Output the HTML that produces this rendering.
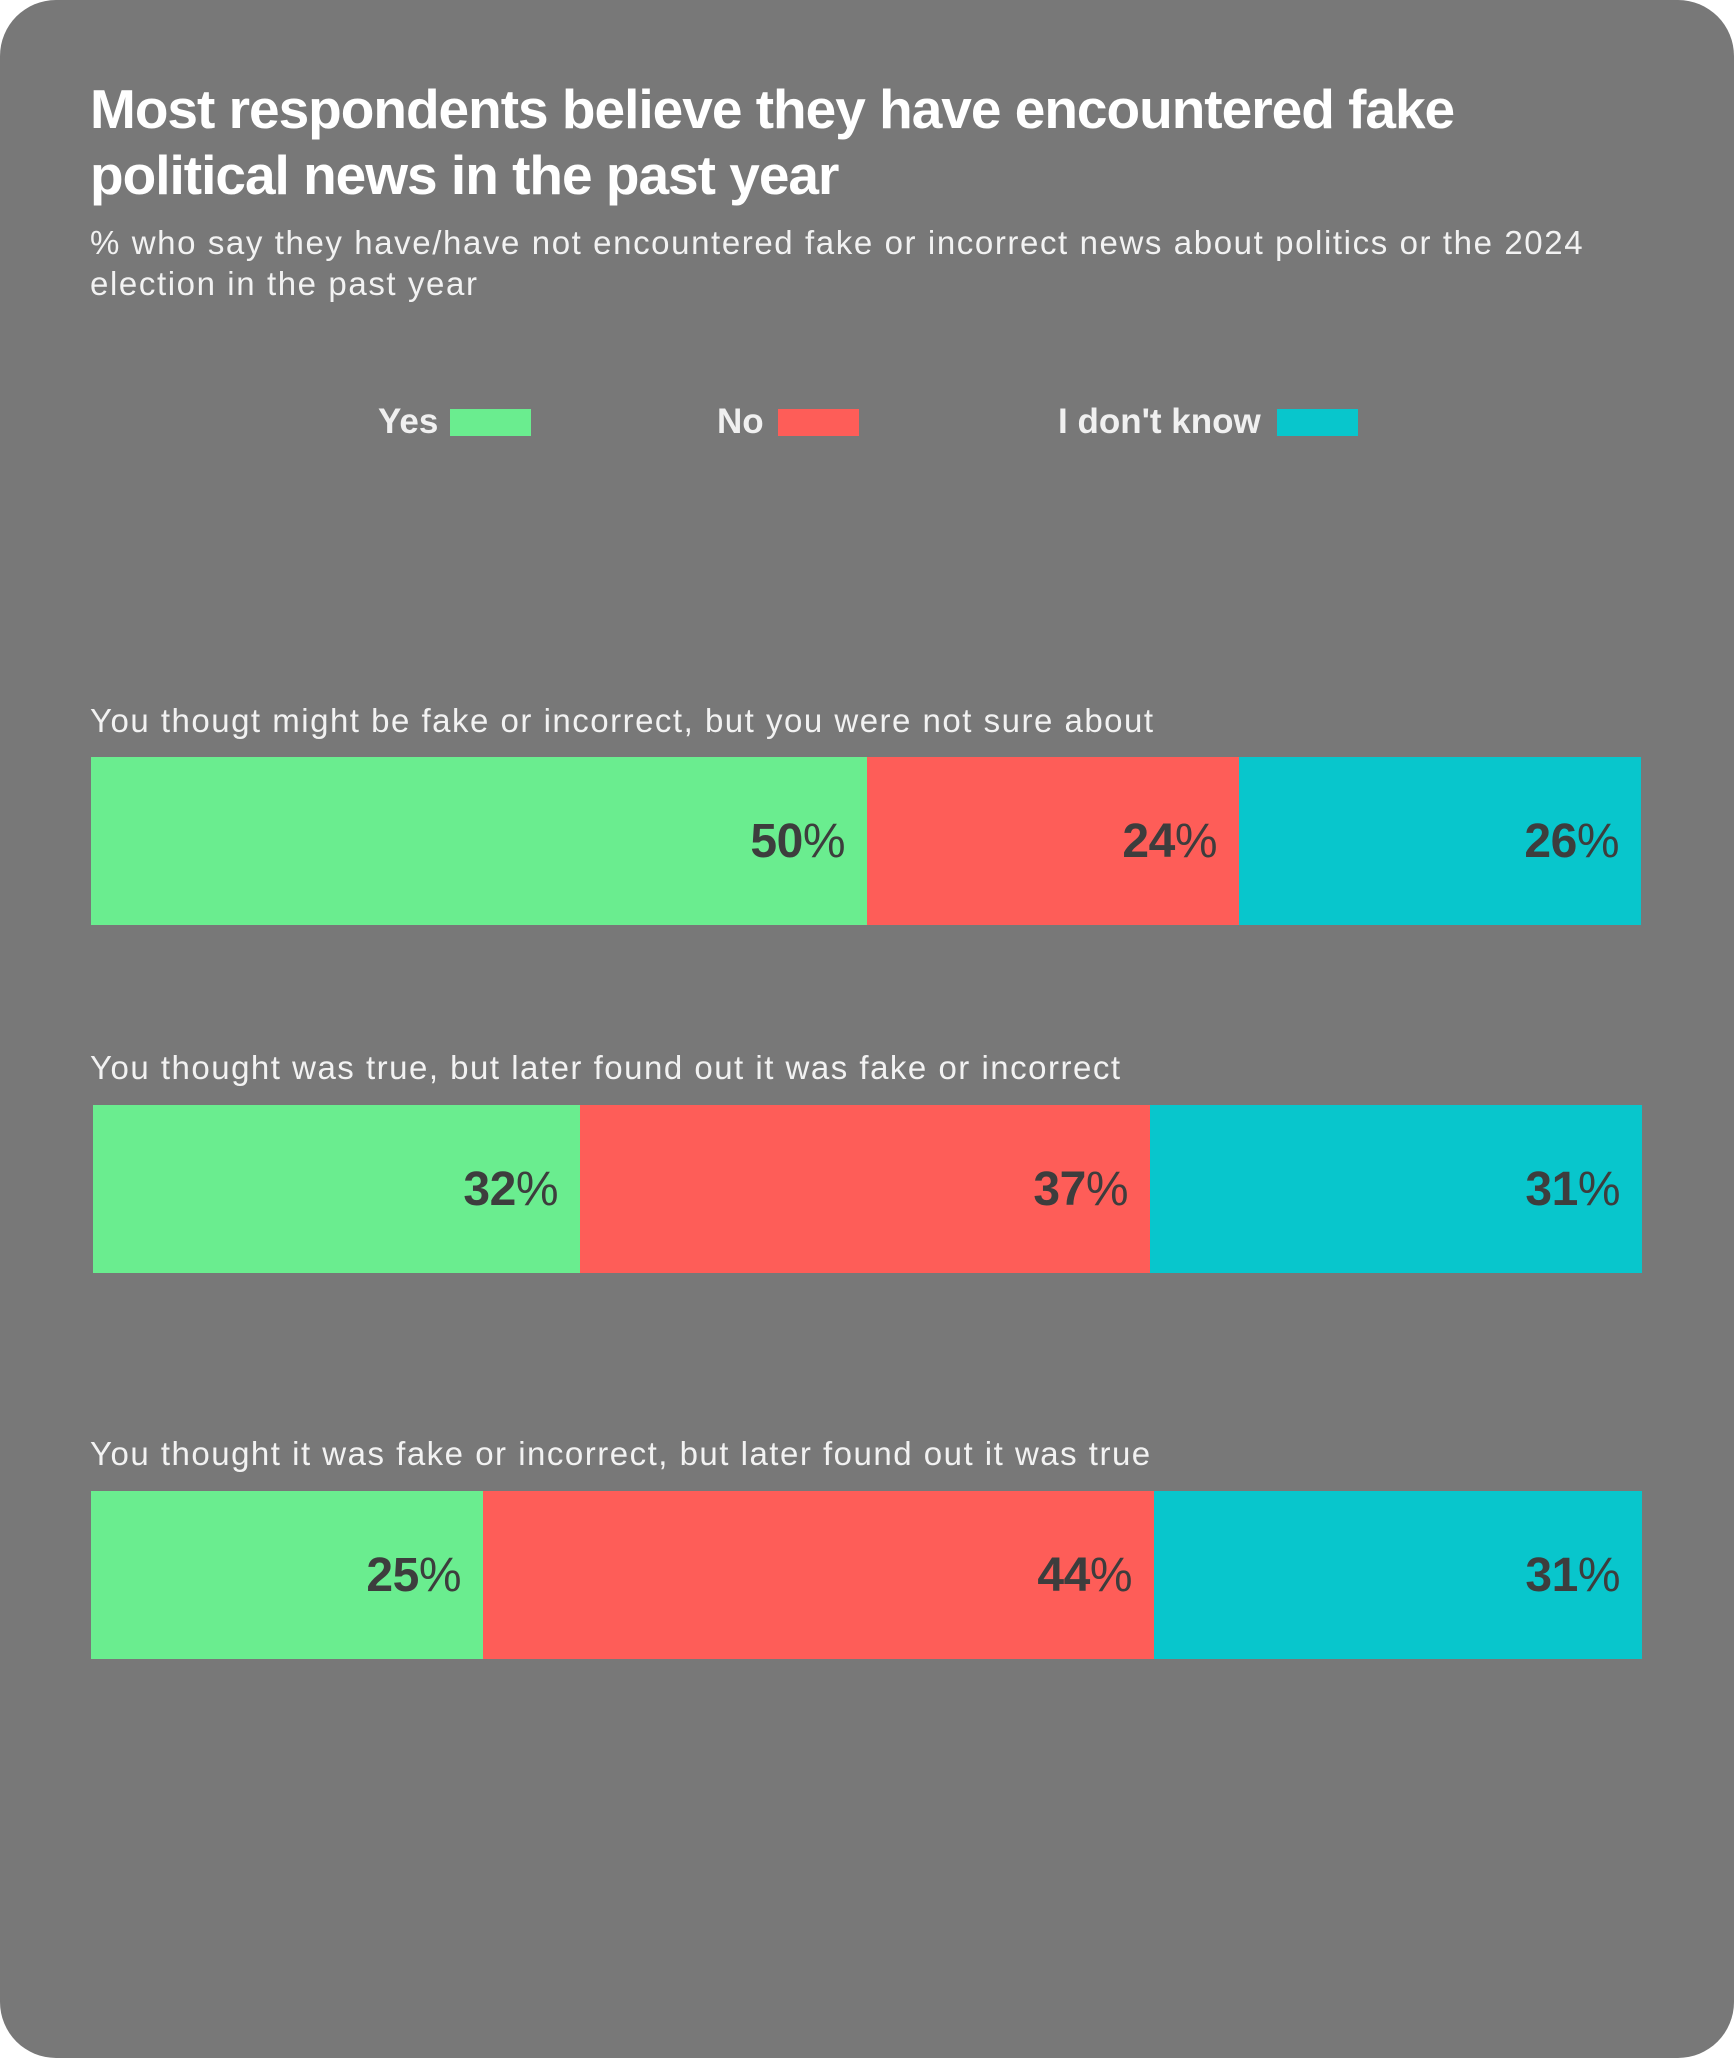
<!DOCTYPE html>
<html><head><meta charset="utf-8"><style>
body{margin:0;width:1734px;height:2058px;background:#fff;overflow:hidden;font-family:"Liberation Sans",sans-serif;}
.card{position:absolute;left:0;top:0;width:1734px;height:2058px;background:#787878;border-radius:56px;}
.t{position:absolute;color:#fff;}
.title{left:90px;top:76px;font-size:55px;font-weight:bold;line-height:66px;letter-spacing:-1px;}
.sub{left:90px;top:222px;font-size:33px;line-height:41px;color:#f2f2f2;letter-spacing:1.6px;}
.leg{font-size:35px;font-weight:bold;top:402px;color:#f0f0f0;}
.box{position:absolute;height:27px;width:81px;top:409px;}
.lab{font-size:33px;color:#f2f2f2;letter-spacing:1.5px;}
.seg{position:absolute;height:168px;}
.v{position:absolute;font-size:48px;color:#3d3d3d;top:57px;right:22px;font-weight:bold;letter-spacing:-0.5px;}
.v span{font-weight:normal;}
</style></head><body><div class="card">
<div class="t title">Most respondents believe they have encountered fake<br>political news in the past year</div>
<div class="t sub">% who say they have/have not encountered fake or incorrect news about politics or the 2024<br>election in the past year</div>
<div class="t leg" style="left:378px">Yes</div><div class="box" style="left:450px;background:#6aed8f"></div>
<div class="t leg" style="left:717px">No</div><div class="box" style="left:778px;background:#fe5d58"></div>
<div class="t leg" style="left:1058px">I don't know</div><div class="box" style="left:1277px;background:#08c6cc"></div>

<div class="t lab" style="left:90px;top:702px">You thougt might be fake or incorrect, but you were not sure about</div>
<div class="seg" style="left:91px;width:776px;top:757px;background:#6aed8f"><div class="v">50<span>%</span></div></div>
<div class="seg" style="left:867px;width:372px;top:757px;background:#fe5d58"><div class="v">24<span>%</span></div></div>
<div class="seg" style="left:1239px;width:402px;top:757px;background:#08c6cc"><div class="v">26<span>%</span></div></div>

<div class="t lab" style="left:90px;top:1049px">You thought was true, but later found out it was fake or incorrect</div>
<div class="seg" style="left:93px;width:487px;top:1105px;background:#6aed8f"><div class="v">32<span>%</span></div></div>
<div class="seg" style="left:580px;width:570px;top:1105px;background:#fe5d58"><div class="v">37<span>%</span></div></div>
<div class="seg" style="left:1150px;width:492px;top:1105px;background:#08c6cc"><div class="v">31<span>%</span></div></div>

<div class="t lab" style="left:90px;top:1435px">You thought it was fake or incorrect, but later found out it was true</div>
<div class="seg" style="left:91px;width:392px;top:1491px;background:#6aed8f"><div class="v">25<span>%</span></div></div>
<div class="seg" style="left:483px;width:671px;top:1491px;background:#fe5d58"><div class="v">44<span>%</span></div></div>
<div class="seg" style="left:1154px;width:488px;top:1491px;background:#08c6cc"><div class="v">31<span>%</span></div></div>
</div></body></html>
